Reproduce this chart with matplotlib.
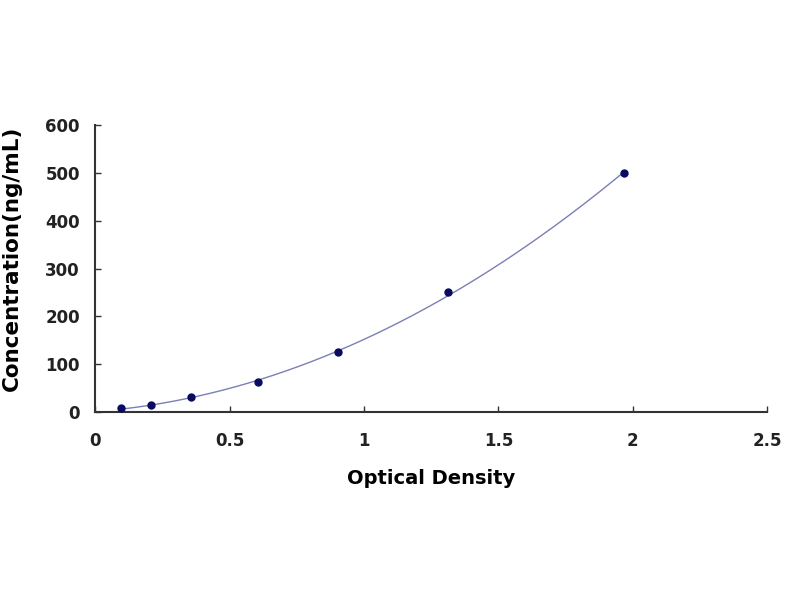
import numpy as np
import matplotlib
matplotlib.use("Agg")
import matplotlib.pyplot as plt

od = [0.097, 0.208, 0.357, 0.606, 0.904, 1.313, 1.968]
conc = [7.8, 15.6, 31.25, 62.5, 125, 250, 500]
xticks = [0, 0.5, 1, 1.5, 2, 2.5]
xticklabels = ["0", "0.5", "1", "1.5", "2", "2.5"]
yticks = [0, 100, 200, 300, 400, 500, 600]

plt.rcParams['font.family'] = ['DejaVu Sans']
fig = plt.figure(figsize=(8, 6), dpi=100)
ax = fig.add_axes([0.119, 0.313, 0.84, 0.479])

coef = np.polyfit(od, conc, 2)
xf = np.linspace(min(od), max(od), 200)
ax.plot(xf, np.polyval(coef, xf), color='#7a7fb8', lw=1.0)
ax.plot(od, conc, 'o', color='#0a0a60', ms=5, zorder=3)

ax.set_xlim(0, 2.5)
ax.set_ylim(0, 600)
ax.set_xticks(xticks)
ax.set_xticklabels(xticklabels)
ax.set_yticks(yticks)
for s in ['top', 'right']:
    ax.spines[s].set_visible(False)
for s in ['left', 'bottom']:
    ax.spines[s].set_color('#333333')
    ax.spines[s].set_linewidth(1.5)
ax.tick_params(direction='in', length=4, width=1, colors='#333333', labelsize=12)
ax.tick_params(axis='x', pad=14)
ax.tick_params(axis='y', pad=11)
for lab in ax.get_xticklabels() + ax.get_yticklabels():
    lab.set_fontweight('bold')
    lab.set_color('#222222')
ax.set_xlabel('Optical Density', fontsize=14, fontweight='bold', labelpad=14)
fig.text(12 / 800, 1 - 258 / 600, 'Concentration(ng/mL)', fontsize=15.5,
         fontweight='bold', rotation=90, ha='center', va='center')

fig.savefig('out.png', dpi=100)
